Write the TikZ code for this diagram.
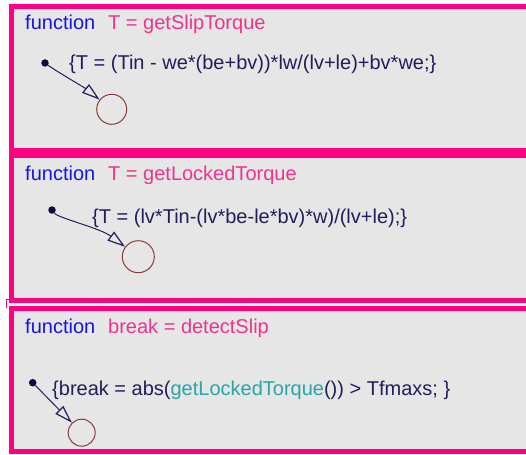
\documentclass[tikz,border=0pt]{standalone}
\usepackage{fontspec}
\setmainfont{Liberation Sans}
\usetikzlibrary{arrows.meta}
\definecolor{frame}{HTML}{FF0080}
\definecolor{bg}{HTML}{E6E6E6}
\definecolor{kw}{HTML}{1515E6}
\definecolor{fname}{HTML}{F0338F}
\definecolor{code}{HTML}{1F1F5C}
\definecolor{call}{HTML}{26A6A6}
\definecolor{junc}{HTML}{8B3A3A}
\definecolor{dotc}{HTML}{0A0A3C}
\begin{document}
\begin{tikzpicture}[x=1pt,y=-1pt,
  box/.style={draw=frame,fill=bg,line width=5pt},
  txt/.style={anchor=base west,inner sep=0pt,font=\fontsize{20}{22}\selectfont},
  kwtxt/.style={txt,text=kw},
  fntxt/.style={txt,text=fname},
  codetxt/.style={txt,text=code},
  junction/.style={circle,draw=junc,line width=1pt,inner sep=0pt},
  defdot/.style={circle,fill=dotc,minimum size=7.5pt,inner sep=0pt},
  deftrans/.style={draw=code,line width=1pt,-{Triangle[open,length=18pt,width=11pt,line width=1.2pt]}}
]
\useasboundingbox (0,0) rectangle (526,454);
\fill[white] (0,0) rectangle (526,454);
\begin{scope}
\clip (0,0) rectangle (526,454);
\draw[box] (11.5,6.5) rectangle (540,150.2);
\draw[box] (11.5,155.2) rectangle (540,300);
\draw[box] (11.5,308.5) rectangle (540,451);
\end{scope}
\draw[frame,line width=1pt] (9,299.5) -- (6,299.5) -- (6,308);

% box 1
\node[kwtxt] (f1) at (25,30) {function};
\node[fntxt] (n1) at (108,30) {T = getSlipTorque};
\node[codetxt] (c1) at (69,70) {\{T = (Tin - we*(be+bv))*lw/(lv+le)+bv*we;\}};
\node[defdot] (d1) at (45,63) {};
\node[junction,minimum size=30pt] (j1) at (111.7,109.3) {};
\draw[deftrans] (d1) .. controls (56,71) and (85,88) .. (j1);

% box 2
\node[kwtxt] (f2) at (25,180) {function};
\node[fntxt] (n2) at (108,180) {T = getLockedTorque};
\node[codetxt] (c2) at (92,223) {\{T = (lv*Tin-(lv*be-le*bv)*w)/(lv+le);\}};
\node[defdot] (d2) at (52,210) {};
\node[junction,minimum size=32pt] (j2) at (138.3,256.7) {};
\draw[deftrans] (d2) .. controls (58,218) and (100,228) .. (j2);

% box 3
\node[kwtxt] (f3) at (25,333) {function};
\node[fntxt] (n3) at (108,333) {break = detectSlip};
\node[codetxt] (c3) at (52,395) {\{break = abs(\textcolor{call}{getLockedTorque}()) > Tfmaxs; \}};
\node[defdot] (d3) at (32.7,382.7) {};
\node[junction,minimum size=27pt] (j3) at (81.7,432.7) {};
\draw[deftrans] (d3) -- (j3);
\end{tikzpicture}
\end{document}
